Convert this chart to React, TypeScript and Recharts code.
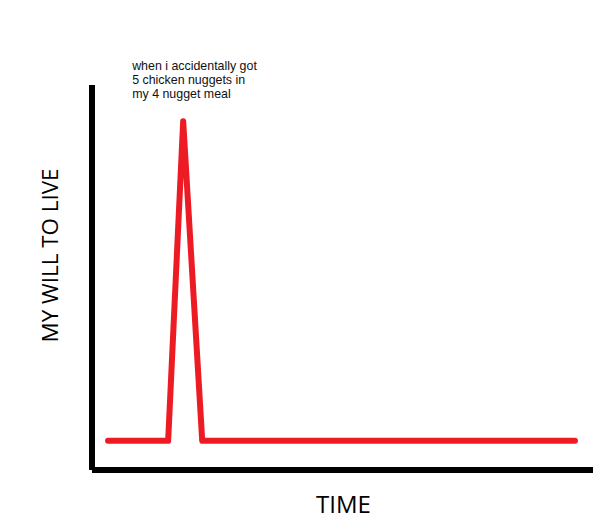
import { LineChart, Line, XAxis, YAxis, ReferenceDot } from "recharts";

// time (0-100) vs will to live (0-100)
const times = [3.2, 15.2, 18.2, 22.0, 96.4];
const willToLive = [7.6, 7.6, 90.6, 7.6, 7.6];
const noteLines = [
  "when i accidentally got",
  "5 chicken nuggets in",
  "my 4 nugget meal",
];

const data = times.map((t, i) => ({ t, will: willToLive[i] }));

const YLabel = ({ viewBox }: any) => {
  const cx = viewBox.x + viewBox.width - 42;
  const cy = viewBox.y + viewBox.height / 2 - 22;
  return (
    <text
      x={cx}
      y={cy}
      transform={`rotate(-90 ${cx} ${cy})`}
      textAnchor="middle"
      dominantBaseline="central"
      fontFamily="Open Sans"
      fontSize={21}
      fill="#000"
      textLength={174}
      lengthAdjust="spacingAndGlyphs"
    >
      MY WILL TO LIVE
    </text>
  );
};

const XLabel = ({ viewBox }: any) => (
  <text
    x={viewBox.x + viewBox.width / 2 + 1}
    y={viewBox.y + 43}
    textAnchor="middle"
    fontFamily="Open Sans"
    fontSize={24}
    fill="#000"
  >
    TIME
  </text>
);

const Note = ({ viewBox }: any) => {
  const px = viewBox.cx ?? viewBox.x + (viewBox.width || 0) / 2;
  const py = viewBox.cy ?? viewBox.y + (viewBox.height || 0) / 2;
  return (
    <text fontFamily="Liberation Sans, Arial" fontSize={12.4} fill="#111">
      {noteLines.map((l, i) => (
        <tspan key={i} x={px - 51} y={py - 51 + i * 14}>
          {l}
        </tspan>
      ))}
    </text>
  );
};

export default function App() {
  const peak = data[2];
  return (
    <div style={{ position: "absolute", left: 0, top: 0, background: "#fff" }}>
      <LineChart
        width={610}
        height={532}
        data={data}
        margin={{ top: 85, right: 17, bottom: 61, left: 91 }}
      >
        <XAxis
          type="number"
          dataKey="t"
          domain={[0, 100]}
          height={1}
          tick={false}
          tickLine={false}
          axisLine={{ stroke: "#000", strokeWidth: 6 }}
          label={<XLabel />}
        />
        <YAxis
          type="number"
          domain={[0, 100]}
          width={1}
          tick={false}
          tickLine={false}
          axisLine={{ stroke: "#000", strokeWidth: 6 }}
          label={<YLabel />}
        />
        <Line
          dataKey="will"
          type="linear"
          stroke="#ed1c24"
          strokeWidth={6}
          strokeLinecap="round"
          strokeLinejoin="round"
          dot={false}
          activeDot={false}
          isAnimationActive={false}
        />
        <ReferenceDot x={peak.t} y={peak.will} r={0} label={<Note />} />
      </LineChart>
    </div>
  );
}
